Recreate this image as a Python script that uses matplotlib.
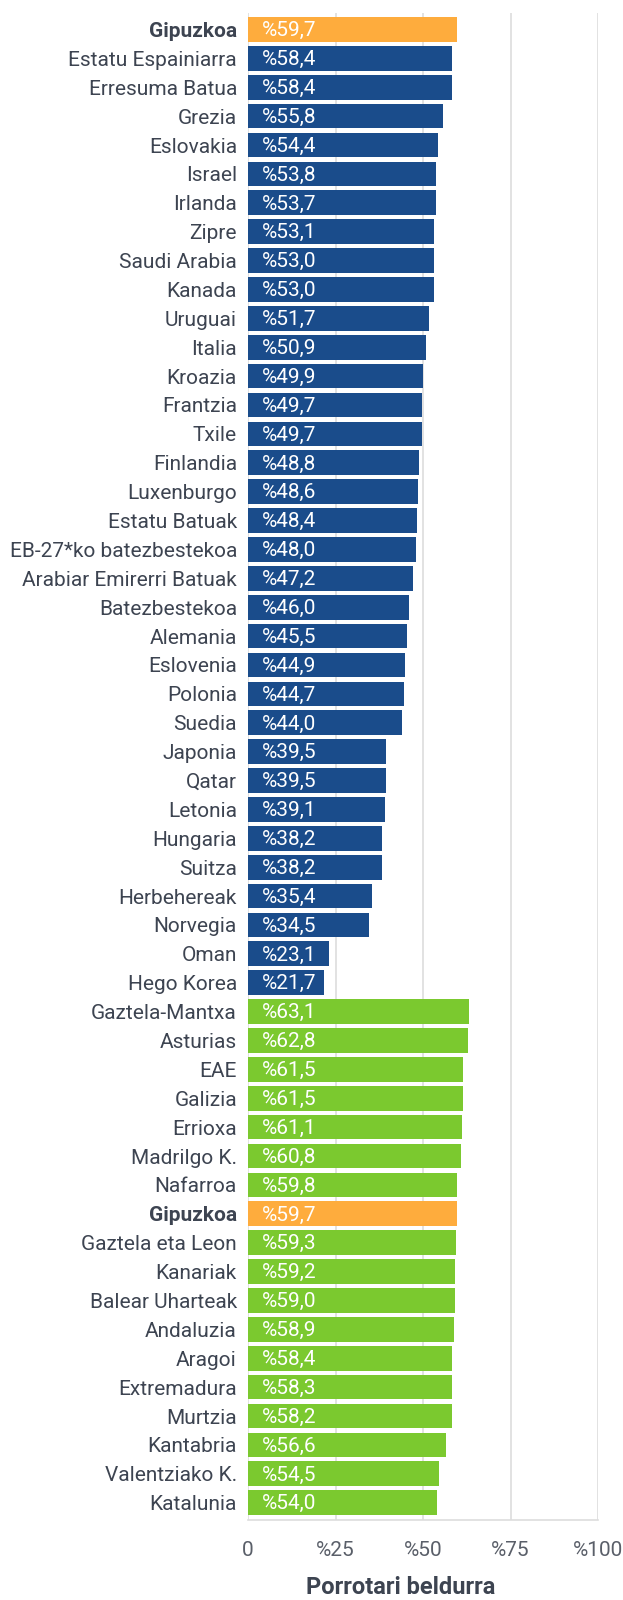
import numpy as np
import matplotlib
matplotlib.use("Agg")
from matplotlib import pyplot as plt

plt.rcParams['font.family'] = ['Roboto', 'DejaVu Sans']

countries = ["Gipuzkoa", "Estatu Espainiarra", "Erresuma Batua", "Grezia", "Eslovakia",
             "Israel", "Irlanda", "Zipre", "Saudi Arabia", "Kanada", "Uruguai", "Italia",
             "Kroazia", "Frantzia", "Txile", "Finlandia", "Luxenburgo", "Estatu Batuak",
             "EB-27*ko batezbestekoa", "Arabiar Emirerri Batuak", "Batezbestekoa", "Alemania",
             "Eslovenia", "Polonia", "Suedia", "Japonia", "Qatar", "Letonia", "Hungaria",
             "Suitza", "Herbehereak", "Norvegia", "Oman", "Hego Korea"]
country_vals = [59.7, 58.4, 58.4, 55.8, 54.4, 53.8, 53.7, 53.1, 53.0, 53.0, 51.7, 50.9,
                49.9, 49.7, 49.7, 48.8, 48.6, 48.4, 48.0, 47.2, 46.0, 45.5, 44.9, 44.7,
                44.0, 39.5, 39.5, 39.1, 38.2, 38.2, 35.4, 34.5, 23.1, 21.7]

regions = ["Gaztela-Mantxa", "Asturias", "EAE", "Galizia", "Errioxa", "Madrilgo K.",
           "Nafarroa", "Gipuzkoa", "Gaztela eta Leon", "Kanariak", "Balear Uharteak",
           "Andaluzia", "Aragoi", "Extremadura", "Murtzia", "Kantabria", "Valentziako K.",
           "Katalunia"]
region_vals = [63.1, 62.8, 61.5, 61.5, 61.1, 60.8, 59.8, 59.7, 59.3, 59.2, 59.0, 58.9,
               58.4, 58.3, 58.2, 56.6, 54.5, 54.0]

highlight = "Gipuzkoa"
ticks = [0, 25, 50, 75, 100]
tick_labels = ["0", "%25", "%50", "%75", "%100"]
xlabel = "Porrotari beldurra"

ORANGE = "#FEAC3D"
BLUE = "#1A4C8B"
GREEN = "#7BC92F"
TEXT = "#3d4451"

labels = countries + regions
values = country_vals + region_vals
colors = []
for i, lab in enumerate(labels):
    if lab == highlight:
        colors.append(ORANGE)
    elif i < len(countries):
        colors.append(BLUE)
    else:
        colors.append(GREEN)

fig = plt.figure(figsize=(6.23, 16), dpi=100)
ax = fig.add_axes([248/623, 1 - 1520/1600, (598-248)/623, (1520-13)/1600])

y = np.arange(len(labels))
ax.barh(y, values, height=0.855, color=colors, zorder=2)

for yi, v in zip(y, values):
    ax.text(3.9, yi + 0.04, "%" + f"{v:.1f}".replace(".", ","), color="white",
            fontsize=15, va="center", ha="left", zorder=3)

ax.set_ylim(51.6, -0.57)
ax.set_xlim(0, 100)
ax.set_yticks(y)
ax.set_yticklabels(labels, fontsize=15, color=TEXT)
for t, lab in zip(ax.get_yticklabels(), labels):
    if lab == highlight:
        t.set_fontweight("bold")
ax.set_xticks(ticks)
ax.set_xticklabels(tick_labels, fontsize=15, color="#5a5f69")
ax.tick_params(axis="y", length=0, pad=8)
ax.tick_params(axis="x", length=0, pad=15)

ax.grid(axis="x", color="#dddddd", linewidth=1.2, zorder=0)
for s in ["top", "right", "left"]:
    ax.spines[s].set_visible(False)
ax.spines["bottom"].set_color("#dddddd")
ax.spines["bottom"].set_linewidth(1.2)

fig.text(401/623, 1 - 1588/1600, xlabel, fontsize=17, fontweight="bold", color=TEXT,
         ha="center", va="center")

fig.savefig("out.png", dpi=100)
